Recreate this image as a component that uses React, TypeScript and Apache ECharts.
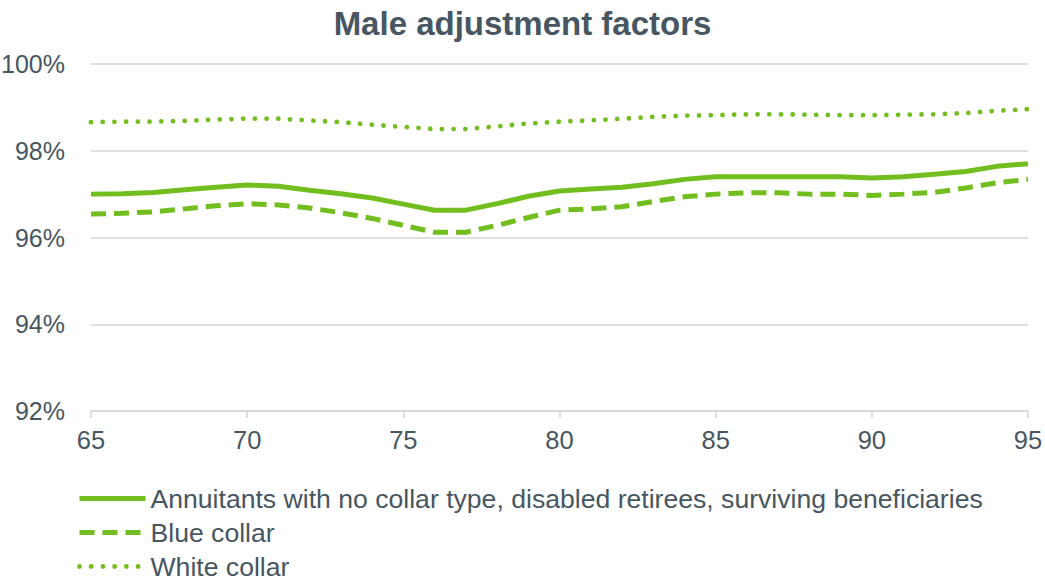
import { useEffect, useRef } from "react";
import * as echarts from "echarts";

// Age at which the factor applies
const ages = [
  65, 66, 67, 68, 69, 70, 71, 72, 73, 74, 75, 76, 77, 78, 79, 80,
  81, 82, 83, 84, 85, 86, 87, 88, 89, 90, 91, 92, 93, 94, 95,
];

// Adjustment factors, in percent
const noCollar = [
  97.0, 97.01, 97.04, 97.1, 97.16, 97.21, 97.18, 97.09, 97.01, 96.91, 96.77,
  96.63, 96.63, 96.78, 96.95, 97.07, 97.12, 97.16, 97.24, 97.34, 97.4, 97.4,
  97.4, 97.4, 97.4, 97.37, 97.4, 97.46, 97.52, 97.64, 97.7,
];
const blueCollar = [
  96.54, 96.56, 96.59, 96.66, 96.73, 96.78, 96.75, 96.68, 96.57, 96.44, 96.28,
  96.12, 96.12, 96.28, 96.46, 96.63, 96.66, 96.71, 96.83, 96.94, 97.0, 97.03,
  97.03, 97.0, 97.0, 96.97, 97.0, 97.04, 97.14, 97.26, 97.34,
];
const whiteCollar = [
  98.66, 98.67, 98.67, 98.69, 98.72, 98.74, 98.74, 98.7, 98.66, 98.6, 98.55,
  98.5, 98.5, 98.56, 98.63, 98.67, 98.7, 98.74, 98.78, 98.81, 98.82, 98.84,
  98.84, 98.83, 98.82, 98.82, 98.83, 98.84, 98.87, 98.92, 98.96,
];

const seriesNames = [
  "Annuitants with no collar type, disabled retirees, surviving beneficiaries",
  "Blue collar",
  "White collar",
];

const GREEN = "#72be1f";
const TEXT = "#475660";
const GRID = "#d6d6d6";
const FONT = "'Liberation Sans', Arial, sans-serif";

const SOLID = { color: GREEN, width: 5, type: "solid" as const };
const DASHED = { color: GREEN, width: 5, type: [15, 8] };
const DOTTED = { color: GREEN, width: 4.8, type: [0.01, 11.7], cap: "round" as const };

const pairs = (vals: number[]) => ages.map((a, i) => [a, vals[i]]);

export default function App() {
  const ref = useRef<HTMLDivElement>(null);

  useEffect(() => {
    document.body.style.margin = "0";
    if (!ref.current) return;
    const chart = echarts.init(ref.current, undefined, { renderer: "svg" });
    chart.setOption({
      animation: false,
      backgroundColor: "#ffffff",
      textStyle: { fontFamily: FONT },
      title: {
        text: "Male adjustment factors",
        left: "center",
        top: 2,
        textStyle: {
          fontFamily: FONT,
          fontSize: 33,
          fontWeight: "bold",
          color: TEXT,
        },
      },
      grid: {
        left: 91,
        right: 17,
        top: 64,
        bottom: 171,
        containLabel: false,
        outerBoundsMode: "none",
      },
      legend: {
        orient: "vertical",
        left: 77,
        top: 485,
        height: 97,
        padding: 0,
        itemWidth: 66,
        itemHeight: 27,
        itemGap: 7,
        itemStyle: { opacity: 0 },
        textStyle: {
          fontFamily: FONT,
          fontSize: 26.6,
          color: TEXT,
          lineHeight: 27,
        },
        data: [
          { name: seriesNames[0], lineStyle: { width: 5 } },
          { name: seriesNames[1], lineStyle: { width: 5 } },
          { name: seriesNames[2], lineStyle: { width: 4.8 } },
        ],
      },
      xAxis: {
        type: "value",
        min: 65,
        max: 95,
        interval: 5,
        axisLine: { show: true, lineStyle: { color: GRID, width: 1.5 } },
        axisTick: { show: true, length: 7, lineStyle: { color: GRID, width: 1.5 } },
        splitLine: { show: false },
        axisLabel: {
          fontFamily: FONT,
          fontSize: 25.5,
          color: TEXT,
          margin: 16,
        },
      },
      yAxis: {
        type: "value",
        min: 92,
        max: 100,
        interval: 2,
        axisLine: { show: false },
        axisTick: { show: false },
        splitLine: { show: true, lineStyle: { color: GRID, width: 1.5 } },
        axisLabel: {
          fontFamily: FONT,
          fontSize: 25,
          color: TEXT,
          margin: 26,
          formatter: "{value}%",
        },
      },
      series: [
        {
          name: seriesNames[0],
          type: "line",
          symbol: "none",
          data: pairs(noCollar),
          lineStyle: SOLID,
          itemStyle: { color: GREEN },
          z: 3,
        },
        {
          name: seriesNames[1],
          type: "line",
          symbol: "none",
          data: pairs(blueCollar),
          lineStyle: DASHED,
          itemStyle: { color: GREEN },
          z: 2,
        },
        {
          name: seriesNames[2],
          type: "line",
          symbol: "none",
          data: pairs(whiteCollar),
          lineStyle: DOTTED,
          itemStyle: { color: GREEN },
          z: 1,
        },
      ],
    });
    return () => chart.dispose();
  }, []);

  return <div ref={ref} style={{ width: 1045, height: 582 }} />;
}
